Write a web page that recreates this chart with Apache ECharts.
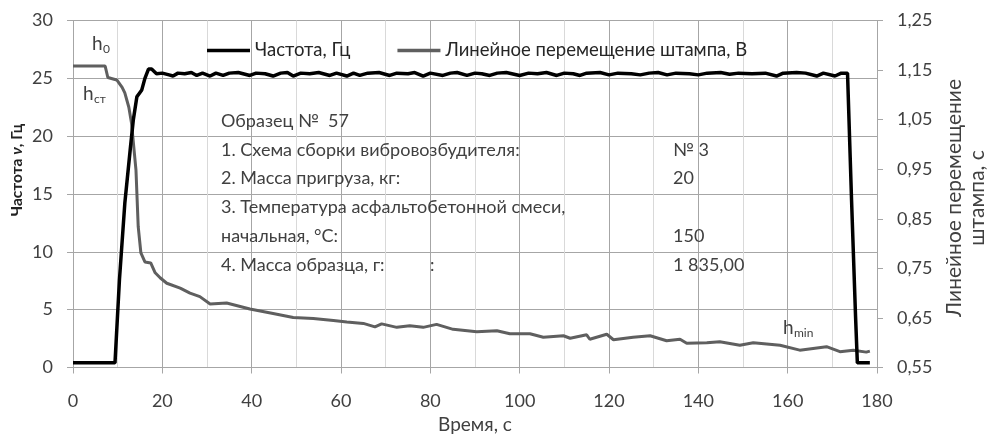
<!DOCTYPE html>
<html>
<head>
<meta charset="utf-8">
<script src="https://cdn.jsdelivr.net/npm/echarts@6/dist/echarts.min.js"></script>
<style>
html,body{margin:0;padding:0;background:#fff;}
#c{width:992px;height:434px;}
</style>
</head>
<body>
<div id="c"></div>
<script>
// ---- Data ----
const freqTime = [0, 9.4, 10.4, 11.6, 12.8, 13.5, 14.3, 15.4, 16.1, 16.9, 17.6, 18.7, 20, 21.5, 22.4, 23.5, 25, 26.5, 27.7, 29, 30.7, 32, 33.6, 35, 37, 39.6, 41, 43, 44.8, 46.5, 48, 49.3, 51, 53, 55, 57.5, 59, 61.3, 62.8, 64.2, 66, 68.5, 70.9, 72.5, 75, 76.5, 78.4, 80, 82.8, 84.5, 86, 88.2, 90, 91.5, 93.3, 95, 97, 100, 102, 104, 106, 108.3, 110, 112, 113.5, 115, 118, 120, 122, 125, 127, 129, 131, 133, 135, 138, 140, 142, 145, 147, 149, 152, 155, 157.5, 159, 162, 164, 166.5, 168, 170.6, 172, 173.4, 174.3, 175.2, 175.6, 178.4];
const freqValue = [0.4, 0.4, 7.6, 14.2, 18.8, 21.4, 23.4, 24.0, 25.0, 25.8, 25.8, 25.4, 25.45, 25.3, 25.2, 25.45, 25.4, 25.5, 25.25, 25.45, 25.2, 25.45, 25.25, 25.45, 25.5, 25.25, 25.45, 25.4, 25.2, 25.45, 25.5, 25.2, 25.45, 25.4, 25.5, 25.25, 25.45, 25.2, 25.45, 25.25, 25.45, 25.5, 25.25, 25.45, 25.4, 25.5, 25.2, 25.45, 25.25, 25.45, 25.5, 25.25, 25.45, 25.4, 25.25, 25.45, 25.5, 25.25, 25.45, 25.4, 25.5, 25.25, 25.45, 25.4, 25.25, 25.45, 25.5, 25.3, 25.45, 25.4, 25.3, 25.45, 25.5, 25.3, 25.45, 25.4, 25.3, 25.45, 25.5, 25.35, 25.45, 25.4, 25.45, 25.2, 25.45, 25.5, 25.45, 25.2, 25.45, 25.2, 25.45, 25.45, 14.5, 4.4, 0.4, 0.4];

const dispTime = [0, 2, 4, 6, 7.2, 7.8, 9.8, 11, 11.6, 12.5, 13.1, 14.1, 14.6, 15.2, 16.1, 17.4, 18.4, 19.5, 21, 24, 26.2, 28.4, 30.7, 34.4, 39.6, 44.8, 49.3, 53.8, 58.3, 61.3, 65, 67.6, 69.1, 72.5, 75.4, 78.4, 81.4, 85.1, 90.4, 94.9, 97.8, 102.3, 105.3, 109.8, 111.3, 115, 115.7, 119.5, 121, 125.4, 129.2, 132.9, 135.9, 137.4, 141.9, 144.8, 149.3, 152.3, 158.3, 162.7, 168.7, 171.7, 174.7, 177.6, 178.4];
const dispValue = [1.158, 1.158, 1.158, 1.158, 1.158, 1.135, 1.130, 1.115, 1.104, 1.075, 1.043, 0.948, 0.834, 0.781, 0.763, 0.761, 0.741, 0.731, 0.720, 0.710, 0.700, 0.693, 0.678, 0.680, 0.668, 0.659, 0.651, 0.649, 0.645, 0.642, 0.639, 0.632, 0.638, 0.631, 0.634, 0.631, 0.637, 0.627, 0.622, 0.624, 0.618, 0.618, 0.611, 0.614, 0.609, 0.616, 0.607, 0.617, 0.606, 0.611, 0.614, 0.604, 0.607, 0.599, 0.600, 0.602, 0.595, 0.600, 0.595, 0.585, 0.592, 0.582, 0.585, 0.581, 0.583];

const seriesNames = ['Частота, Гц', 'Линейное перемещение штампа, В'];
const xAxisTitle = 'Время, с';
const leftAxisTitle = ['Частота ', 'ν', ', Гц'];
const rightAxisTitle = 'Линейное перемещение\nштампа, с';
const infoLines = ['Образец №  57', '1. Схема сборки вибровозбудителя:', '2. Масса пригруза, кг:', '3. Температура асфальтобетонной смеси,', 'начальная, °С:', '4. Масса образца, г:'];
const infoValues = ['', '№ 3', '20', '', '150', '1 835,00'];

// ---- Chart ----
const FONT = 'Lato, "Open Sans", sans-serif';
const TXT = '#404040';
const chart = echarts.init(document.getElementById('c'), null, {renderer: 'canvas'});

const lineTop = 121, lineStep = 28.8;
const graphics = [];
infoLines.forEach((t, i) => {
  graphics.push({type: 'text', x: 221, y: lineTop + i * lineStep, z: 10,
    style: {text: t, fill: TXT, font: '18px ' + FONT, textVerticalAlign: 'middle', verticalAlign: 'middle'}});
  if (infoValues[i]) graphics.push({type: 'text', x: 673, y: lineTop + i * lineStep, z: 10,
    style: {text: infoValues[i], fill: TXT, font: '18px ' + FONT, textVerticalAlign: 'middle', verticalAlign: 'middle'}});
});
graphics.push({type: 'text', x: 430, y: lineTop + 5 * lineStep, z: 10,
  style: {text: ':', fill: TXT, font: '18px ' + FONT, textVerticalAlign: 'middle', verticalAlign: 'middle'}});
// h labels
function hLabel(x, y, sub) {
  graphics.push({type: 'text', x: x, y: y, z: 10, style: {text: 'h', fill: TXT, font: '19px ' + FONT, textVerticalAlign: 'middle', verticalAlign: 'middle'}});
  graphics.push({type: 'text', x: x + 11, y: y + 5, z: 10, style: {text: sub, fill: TXT, font: '12px ' + FONT, textVerticalAlign: 'middle', verticalAlign: 'middle'}});
}
hLabel(92, 44, '0');
hLabel(83, 94, 'ст');
hLabel(783, 328, 'min');
// left axis title
graphics.push({type: 'text', x: 17, y: 170, rotation: Math.PI / 2, z: 10,
  style: {text: '{a|' + leftAxisTitle[0] + '}{b|' + leftAxisTitle[1] + '}{a|' + leftAxisTitle[2] + '}',
    textAlign: 'center', align: 'center', textVerticalAlign: 'middle', verticalAlign: 'middle',
    rich: {a: {fontFamily: FONT, fontSize: 15.5, fontWeight: 'bold', fill: '#222', color: '#222'},
           b: {fontFamily: FONT, fontSize: 15.5, fontWeight: 'bold', fontStyle: 'italic', fill: '#222', color: '#222'}}}});
// right axis title
graphics.push({type: 'text', x: 966, y: 198, rotation: Math.PI / 2, z: 10,
  style: {text: rightAxisTitle, fill: TXT, font: '21px ' + FONT, lineHeight: 23,
    textAlign: 'center', align: 'center', textVerticalAlign: 'middle', verticalAlign: 'middle'}});

const option = {
  backgroundColor: '#fff',
  animation: false,
  textStyle: {fontFamily: FONT},
  grid: {left: 73, right: 115, top: 20.5, bottom: 66.5, containLabel: false, outerBoundsMode: 'none'},
  legend: {
    left: 202, top: 36, itemWidth: 43, itemHeight: 3.5, itemGap: 47,
    icon: 'rect',
    textStyle: {fontFamily: FONT, fontSize: 18.5, color: '#262626'},
    data: seriesNames
  },
  xAxis: {
    type: 'value', min: 0, max: 180, interval: 20,
    name: xAxisTitle, nameLocation: 'middle', nameGap: 37,
    nameTextStyle: {fontFamily: FONT, fontSize: 19, color: TXT},
    axisLine: {show: true, lineStyle: {color: '#a6a6a6', width: 1}},
    axisTick: {show: true, length: 6, lineStyle: {color: '#a6a6a6'}},
    axisLabel: {fontFamily: FONT, fontSize: 18, color: TXT, margin: 25},
    splitLine: {show: true, lineStyle: {color: '#a6a6a6', width: 1}},
    minorTick: {show: false, splitNumber: 2},
    minorSplitLine: {show: true, lineStyle: {color: '#d9d9d9', width: 1}}
  },
  yAxis: [{
    type: 'value', min: 0, max: 30, interval: 5,
    axisLine: {show: true, lineStyle: {color: '#a6a6a6', width: 1}},
    axisTick: {show: true, length: 6, lineStyle: {color: '#a6a6a6'}},
    axisLabel: {fontFamily: FONT, fontSize: 18, color: TXT, margin: 20},
    splitLine: {show: true, lineStyle: {color: '#a6a6a6', width: 1}}
  }, {
    type: 'value', min: 0.55, max: 1.25, interval: 0.1, position: 'right',
    axisLine: {show: true, lineStyle: {color: '#a6a6a6', width: 1}},
    axisTick: {show: true, length: 6, lineStyle: {color: '#a6a6a6'}},
    axisLabel: {fontFamily: FONT, fontSize: 18, color: TXT, margin: 20,
      formatter: v => v.toFixed(2).replace('.', ',')},
    splitLine: {show: false}
  }],
  series: [{
    name: seriesNames[0], type: 'line', yAxisIndex: 0, z: 4,
    showSymbol: false, symbol: 'none',
    lineStyle: {color: '#000', width: 3.5},
    itemStyle: {color: '#000'},
    data: freqTime.map((t, i) => [t, freqValue[i]])
  }, {
    name: seriesNames[1], type: 'line', yAxisIndex: 1, z: 3,
    showSymbol: false, symbol: 'none',
    lineStyle: {color: '#5f5f5f', width: 3},
    itemStyle: {color: '#5f5f5f'},
    data: dispTime.map((t, i) => [t, dispValue[i]])
  }],
  graphic: graphics
};
chart.setOption(option);
</script>
</body>
</html>
